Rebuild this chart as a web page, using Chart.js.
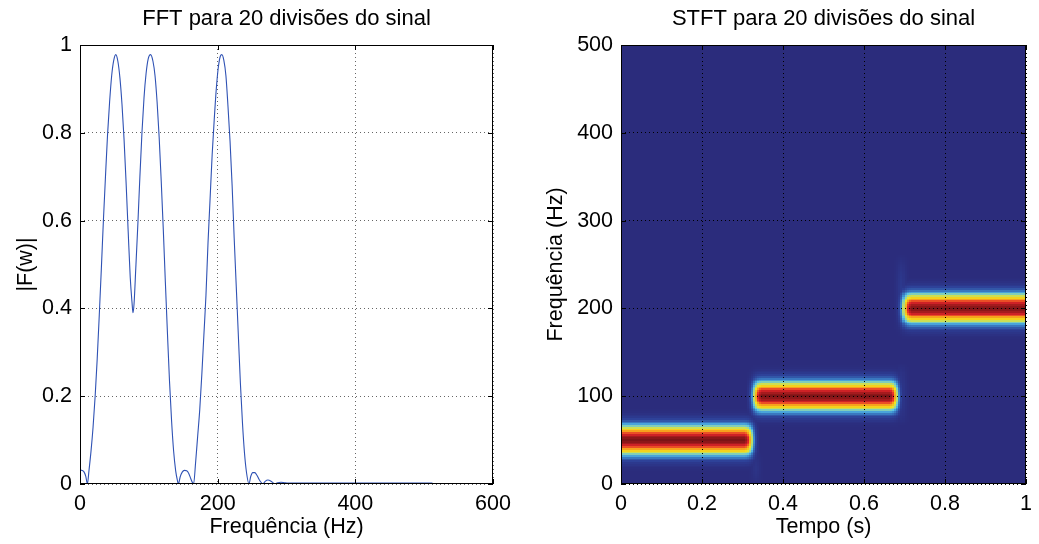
<!DOCTYPE html>
<html>
<head>
<meta charset="utf-8">
<script src="https://cdn.jsdelivr.net/npm/chart.js@4.4.0/dist/chart.umd.min.js"></script>
<style>
  html, body { margin: 0; padding: 0; background: #fff; }
  #wrap { position: relative; width: 1039px; height: 544px; }
  #wrap canvas { position: absolute; left: 0; top: 0; }
</style>
</head>
<body>
<div id="wrap">
  <canvas id="fftChart" width="1039" height="544"></canvas>
  <canvas id="stftChart" width="1039" height="544"></canvas>
</div>
<script>
// ---- left panel: |F(w)| ----
const fftFreq = [0, 3, 6, 8.5, 10.7, 13, 16, 19, 22, 25, 28, 31, 34, 37, 40, 43, 46, 49, 52, 55, 58, 61, 64, 67, 70, 73, 75.5, 77, 78.5,
  81, 84, 87, 90, 93, 96, 99, 102.5, 106, 109, 112, 115, 118, 121, 124, 127, 130, 133, 136, 139, 141.5, 143, 145.5, 148.5, 151.5,
  155, 158, 161, 163.5, 165, 168, 171, 174, 177, 180, 183, 186, 189, 192, 195, 198, 201, 204, 206, 209, 212, 215, 218, 221, 224,
  227, 230, 233, 236, 239, 242, 245.5, 248, 251, 254, 257, 260, 263, 265.5, 269, 273, 277, 281, 283, 287, 292, 297, 302, 350, 400, 450, 512];
const fftMag = [0.032, 0.031, 0.027, 0.017, 0, 0.03, 0.075, 0.13, 0.2, 0.285, 0.385, 0.49, 0.6, 0.7, 0.795, 0.87, 0.93, 0.965, 0.978, 0.963, 0.925, 0.865, 0.785, 0.685, 0.575, 0.47, 0.415, 0.39, 0.41,
  0.49, 0.59, 0.7, 0.8, 0.88, 0.935, 0.968, 0.978, 0.963, 0.93, 0.87, 0.79, 0.69, 0.58, 0.46, 0.345, 0.235, 0.145, 0.075, 0.03, 0.008, 0, 0.016, 0.027, 0.031,
  0.03, 0.024, 0.012, 0.003, 0, 0.05, 0.11, 0.17, 0.25, 0.34, 0.43, 0.55, 0.65, 0.75, 0.83, 0.9, 0.95, 0.975, 0.978, 0.965, 0.93, 0.86, 0.78, 0.68, 0.56,
  0.45, 0.34, 0.23, 0.14, 0.07, 0.025, 0, 0.017, 0.026, 0.026, 0.02, 0.011, 0.004, 0, 0.006, 0.009, 0.007, 0.002, 0, 0.003, 0.004, 0.003, 0.002, 0.002, 0.002, 0.002, 0.002];
const fftXTicks = [0, 200, 400, 600];
const fftYTicks = [0, 0.2, 0.4, 0.6, 0.8, 1];

// ---- right panel: STFT ----
const stftTimeTicks = [0, 0.2, 0.4, 0.6, 0.8, 1];
const stftFreqTicks = [0, 100, 200, 300, 400, 500];

// each tone: full-strength time span (s) and centre frequency (Hz)
const toneFreq = [50, 100, 200];
const toneStart = [0, 0.345, 0.715];
const toneEnd = [0.305, 0.665, 1.0];

// relative level across a tone, every 2 Hz away from its centre
const bandOffsets = [0, 2, 4, 6, 8, 10, 12, 14, 16, 18, 20, 22, 24, 26, 28, 30, 32, 34];
const bandLevel = [1, 0.98, 0.95, 0.9, 0.83, 0.75, 0.66, 0.56, 0.45, 0.34, 0.25, 0.17, 0.11, 0.07, 0.045, 0.025, 0.012, 0.005];

// fade past the ends of a tone, one entry per 0.005 s step
const edgeLevel = [0.97, 0.9, 0.75, 0.55, 0.3, 0.12, 0.04];

// faint smears at the switching instants (centre time, frequency span, peak level)
const smearTime = [0.33, 0.33, 0.69, 0.69];
const smearF0 = [0, 70, 66, 170];
const smearF1 = [36, 134, 138, 262];
const smearLevel = [0.04, 0.06, 0.06, 0.07];
// smear fall-off across its width, one entry per 0.005 s step from the centre
const smearSpread = [1, 0.75, 0.4, 0.15];

const cmapPos = [0, 0.1, 0.2, 0.3, 0.4, 0.5, 0.62, 0.75, 0.87, 1];
const cmapColor = ['#2b2c7c', '#2d3f96', '#3461b0', '#3d8fd0', '#5cc4e8', '#a6d88a', '#f3e61c', '#f6a21d', '#e6262b', '#7c1416'];

const FONT = "'Liberation Sans', Arial, Helvetica, sans-serif";

function hexRgb(h) {
  return [parseInt(h.slice(1, 3), 16), parseInt(h.slice(3, 5), 16), parseInt(h.slice(5, 7), 16)];
}
function colorAt(v) {
  v = Math.max(0, Math.min(1, v));
  let i = 0;
  while (i < cmapPos.length - 2 && v > cmapPos[i + 1]) i++;
  const f = (v - cmapPos[i]) / (cmapPos[i + 1] - cmapPos[i]);
  const a = hexRgb(cmapColor[i]), b = hexRgb(cmapColor[i + 1]);
  return 'rgb(' + a.map((c, k) => Math.round(c + (b[k] - c) * f)).join(',') + ')';
}

// build STFT cells (time step 0.005 s, frequency step 2 Hz, centred on even Hz)
const dt = 0.005, df = 2;
const cellMap = new Map();
function put(ti, f, v) {
  if (ti < 0 || ti * dt >= 1 || f < 0) return;
  const k = ti + ',' + f;
  const old = cellMap.get(k);
  if (!old || old.v < v) cellMap.set(k, { t0: ti * dt, t1: (ti + 1) * dt, f0: f - df / 2, f1: f + df / 2, v });
}
toneFreq.forEach((fc, n) => {
  const iStart = Math.round(toneStart[n] / dt), iEnd = Math.round(toneEnd[n] / dt);
  for (let ti = iStart - edgeLevel.length; ti < iEnd + edgeLevel.length; ti++) {
    let e = 1;
    if (ti < iStart) e = edgeLevel[iStart - ti - 1];
    else if (ti >= iEnd) e = edgeLevel[ti - iEnd];
    bandOffsets.forEach((off, k) => {
      put(ti, fc + off, bandLevel[k] * e);
      put(ti, fc - off, bandLevel[k] * e);
    });
  }
});
smearTime.forEach((t, n) => {
  const ic = Math.round(t / dt);
  const mid = (smearF0[n] + smearF1[n]) / 2, half = (smearF1[n] - smearF0[n]) / 2;
  smearSpread.forEach((s, d) => {
    [ic - d, ic + d].forEach(ti => {
      for (let f = smearF0[n]; f <= smearF1[n]; f += df) {
        const taper = 1 - Math.pow(Math.abs(f - mid) / half, 2);
        put(ti, f, smearLevel[n] * s * Math.max(0, taper));
      }
    });
  });
});
const stftCells = Array.from(cellMap.values());

const heatmap = {
  id: 'heatmap',
  beforeDraw(chart) {
    const { ctx, chartArea: a, scales: { x, y } } = chart;
    ctx.save();
    ctx.beginPath();
    ctx.rect(a.left, a.top, a.width, a.height);
    ctx.clip();
    ctx.fillStyle = colorAt(0);
    ctx.fillRect(a.left, a.top, a.width, a.height);
    stftCells.forEach(c => {
      const x0 = Math.round(x.getPixelForValue(c.t0)), x1 = Math.round(x.getPixelForValue(c.t1));
      const y0 = Math.round(y.getPixelForValue(c.f1)), y1 = Math.round(y.getPixelForValue(c.f0));
      ctx.fillStyle = colorAt(c.v);
      ctx.fillRect(x0, y0, x1 - x0, y1 - y0);
    });
    ctx.restore();
  }
};

// MATLAB style box with inward ticks
const boxTicks = {
  id: 'boxTicks',
  afterDraw(chart) {
    const { ctx, chartArea: a, scales: { x, y } } = chart;
    ctx.save();
    ctx.strokeStyle = '#000';
    ctx.lineWidth = 1;
    ctx.beginPath();
    x.ticks.forEach(t => {
      const px = Math.round(x.getPixelForValue(t.value)) + 0.5;
      ctx.moveTo(px, a.bottom); ctx.lineTo(px, a.bottom - 5);
      ctx.moveTo(px, a.top); ctx.lineTo(px, a.top + 5);
    });
    y.ticks.forEach(t => {
      const py = Math.round(y.getPixelForValue(t.value)) + 0.5;
      ctx.moveTo(a.left, py); ctx.lineTo(a.left + 5, py);
      ctx.moveTo(a.right, py); ctx.lineTo(a.right - 5, py);
    });
    ctx.stroke();
    ctx.strokeRect(Math.round(a.left) + 0.5, Math.round(a.top) + 0.5, Math.round(a.width) - 1, Math.round(a.height) - 1);
    ctx.restore();
  }
};

function axis(min, max, tickList, title, gridColor, isX, yWidth) {
  return {
    type: 'linear',
    min: min,
    max: max,
    afterBuildTicks: s => { s.ticks = tickList.map(v => ({ value: v })); },
    ticks: { color: '#000', font: { family: FONT, size: 21.5 }, padding: isX ? 7 : 8, maxRotation: 0, callback: v => String(v) },
    grid: { color: gridColor, drawTicks: false, lineWidth: 1 },
    border: { display: false, dash: [1, 3] },
    title: { display: true, text: title, color: '#000', font: { family: FONT, size: 21.5 }, padding: isX ? { top: 0, bottom: 4 } : { top: 13, bottom: 0 } },
    afterFit: s => { if (isX) s.height = 60; else s.width = yWidth; }
  };
}

function titleOpts(text) {
  return {
    display: true, text: text, color: '#000', fullSize: false,
    font: { family: FONT, size: 22, weight: 'normal' },
    padding: { top: 6, bottom: 12.6 }
  };
}

new Chart(document.getElementById('fftChart'), {
  type: 'line',
  data: {
    datasets: [{
      data: fftFreq.map((f, i) => ({ x: f, y: fftMag[i] })),
      borderColor: '#2f52b4',
      borderWidth: 1.1,
      pointRadius: 0,
      cubicInterpolationMode: 'monotone',
      fill: false
    }]
  },
  options: {
    responsive: false,
    animation: false,
    events: [],
    layout: { padding: { left: 0, right: 546, top: 0, bottom: 0 } },
    plugins: { legend: { display: false }, tooltip: { enabled: false }, title: titleOpts('FFT para 20 divisões do sinal') },
    scales: {
      x: axis(0, 600, fftXTicks, 'Frequência (Hz)', '#666', true),
      y: axis(0, 1, fftYTicks, '|F(w)|', '#666', false, 80)
    }
  },
  plugins: [boxTicks]
});

new Chart(document.getElementById('stftChart'), {
  type: 'scatter',
  data: { datasets: [{ data: [] }] },
  options: {
    responsive: false,
    animation: false,
    events: [],
    layout: { padding: { left: 530, right: 6, top: 0, bottom: 0 } },
    plugins: { legend: { display: false }, tooltip: { enabled: false }, title: titleOpts('STFT para 20 divisões do sinal') },
    scales: {
      x: axis(0, 1, stftTimeTicks, 'Tempo (s)', '#000', true),
      y: axis(0, 500, stftFreqTicks, 'Frequência (Hz)', '#000', false, 91)
    }
  },
  plugins: [heatmap, boxTicks]
});
</script>
</body>
</html>
